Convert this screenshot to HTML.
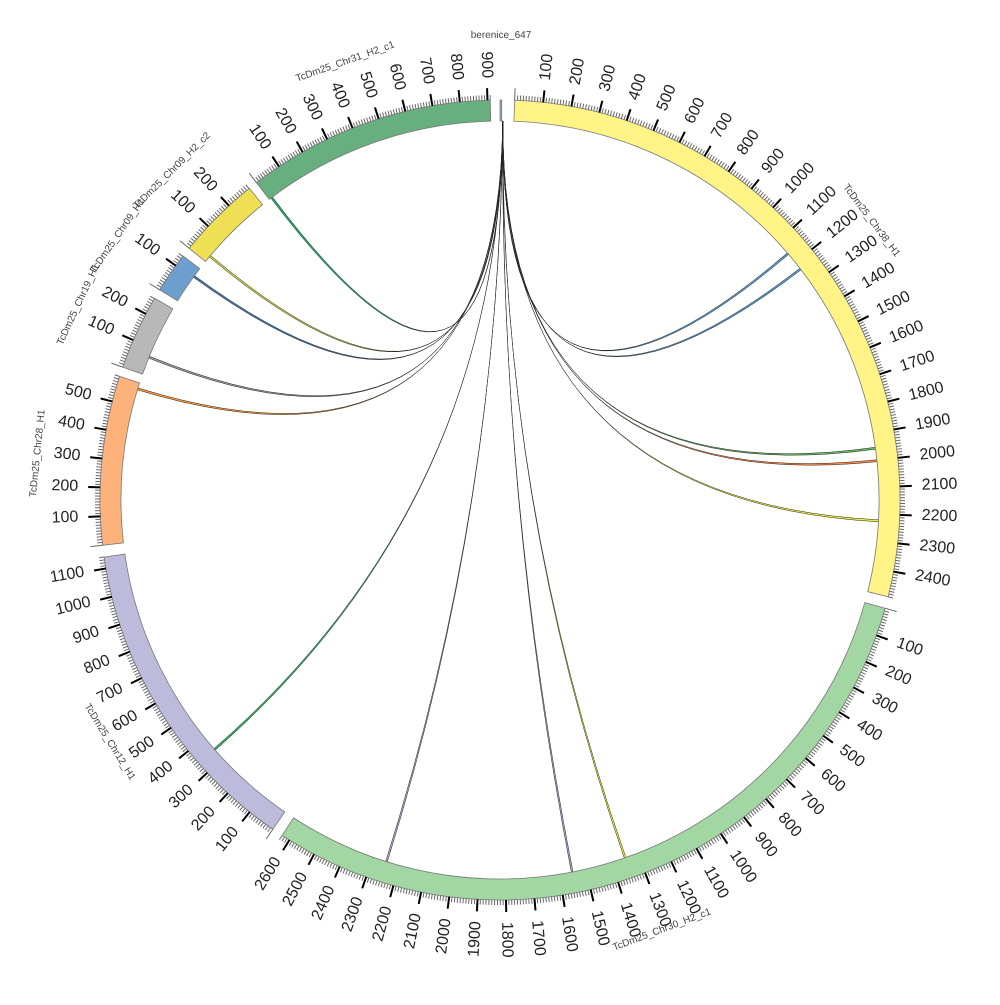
<!DOCTYPE html>
<html><head><meta charset="utf-8"><style>
html,body{margin:0;padding:0;background:#fff;}
svg text{font-family:"Liberation Sans",sans-serif;}
</style></head><body>
<svg id="s" width="1000" height="1000" viewBox="0 0 1000 1000" xmlns="http://www.w3.org/2000/svg">
<g id="links"></g><g id="ideo"></g><g id="ticks"></g>
<g font-size="10" fill="#444" text-anchor="middle">
<text id="l0">berenice_647</text>
<text id="l1">TcDm25_Chr38_H1</text>
<text id="l2">TcDm25_Chr30_H2_c1</text>
<text id="l3">TcDm25_Chr12_H1</text>
<text id="l4">TcDm25_Chr28_H1</text>
<text id="l5">TcDm25_Chr19_H1</text>
<text id="l6">TcDm25_Chr09_H1</text>
<text id="l7">TcDm25_Chr09_H2_c2</text>
<text id="l8">TcDm25_Chr31_H2_c1</text>
</g>
</svg>
<script>
const cx=500,cy=500,R0=379,R1=400,NS="http://www.w3.org/2000/svg";
const segs=[
 [0,0.25,0.6,"#9fb3c8",0],
 [2.1,104,2490,"#FFF485",1],
 [105.7,213,2630,"#A2D6A2",1],
 [214.6,261.8,1140,"#BDBBDC",1],
 [263.5,288,590,"#FDB27B",1],
 [289.4,300.3,262,"#B8B8B8",1],
 [301.7,307.6,142,"#6C9FCE",1],
 [309,321.2,292,"#EEE052",1],
 [322.5,358.6,910,"#67AF7F",1]];
function P(a,r){const t=a*Math.PI/180;return [cx+r*Math.sin(t),cy-r*Math.cos(t)];}
function el(n,at,par){const e=document.createElementNS(NS,n);for(const k in at)e.setAttribute(k,at[k]);document.getElementById(par).appendChild(e);return e;}
segs.forEach((s,i)=>{
 const [a0,a1,len,col,tk]=s;
 const p0=P(a0,R1),p1=P(a1,R1),p2=P(a1,R0),p3=P(a0,R0);const lg=(a1-a0)>180?1:0;
 el("path",{d:`M${p0}A${R1},${R1} 0 ${lg} 1 ${p1}L${p2}A${R0},${R0} 0 ${lg} 0 ${p3}Z`,fill:col,stroke:"#777","stroke-width":0.8},"ideo");
 if(tk){
  const k=(a1-a0)/len;let d="";
  for(let v=0;v<=len;v+=10){const a=a0+v*k;const q=P(a,R1),w=P(a,R1+(v%100==0?12:5));d+=`M${q}L${w}`;
   if(v%100==0&&v>0){const L=P(a,422);const t=el("text",{x:L[0],y:L[1],"font-size":16,fill:"#222","dominant-baseline":"middle"},"ticks");
    if(a<180){t.setAttribute("transform",`rotate(${a-90} ${L[0]} ${L[1]})`);t.setAttribute("text-anchor","start");}
    else{t.setAttribute("transform",`rotate(${a-270} ${L[0]} ${L[1]})`);t.setAttribute("text-anchor","end");}
    t.textContent=v;}}
  el("path",{d:d,stroke:"#666","stroke-width":1},"ticks");
  let dm="";for(let v=100;v<=len;v+=100){const a=a0+v*k;dm+=`M${P(a,R1)}L${P(a,R1+12)}`;}
  el("path",{d:dm,stroke:"#000","stroke-width":2},"ticks");
 }
 const m=(a0+a1)/2,L=P(m,462),t=document.getElementById("l"+i);
 t.setAttribute("x",L[0]);t.setAttribute("y",L[1]);
 let rot=(m>90&&m<270)?m-180:m;t.setAttribute("transform",`rotate(${rot} ${L[0]} ${L[1]})`);
});
const links=[[322.8,"#2a6"],[309.9,"#cc4"],[306,"#47a"],[292,"#999"],[286.9,"#f93"],[228.7,"#3a6"],[197.3,"#aac"],[168.9,"#aac"],[160.6,"#ee3"],[49.3,"#59c"],[52.3,"#59c"],[82,"#6b6"],[83.9,"#f84"],[93,"#ee4"]];
links.forEach(([a,c])=>{
 const A=P(a,R0),B=P(0.4,R0);
 const w=(a>150&&a<210)?0.25:0.3;
 const A2=P(a+w,R0),B2=P(0.45,R0);
 el("path",{d:`M${A}Q${cx},${cy} ${B}L${B2}Q${cx},${cy} ${A2}Z`,fill:c,stroke:"#222","stroke-width":0.5},"links");
});
</script>
</body></html>
